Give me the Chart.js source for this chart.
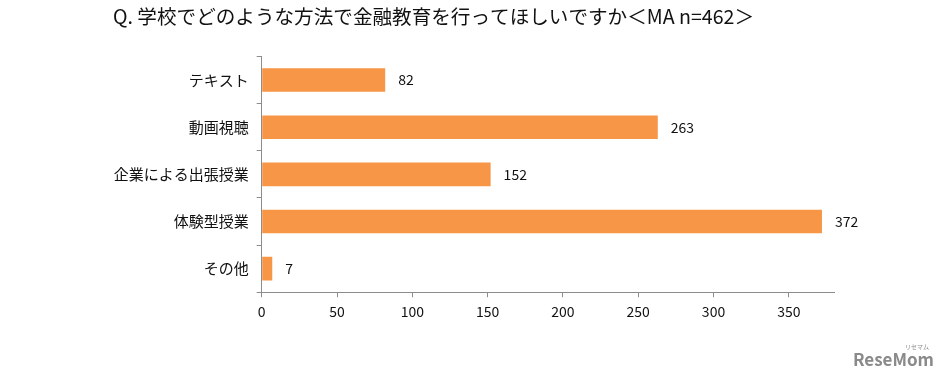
<!DOCTYPE html>
<html>
<head>
<meta charset="utf-8">
<script src="https://cdn.jsdelivr.net/npm/chart.js@4"></script>
<style>
    html, body { margin: 0; padding: 0; background: #fff; }
    #wrap { position: relative; width: 948px; height: 382px; }
</style>
</head>
<body>
<div id="wrap"><canvas id="methodChart" width="948" height="382"></canvas></div>
<script>
const titleText = 'Q. 学校でどのような方法で金融教育を行ってほしいですか＜MA n=462＞';
const categories = ['テキスト', '動画視聴', '企業による出張授業', '体験型授業', 'その他'];
const counts = [82, 263, 152, 372, 7];
const tickValues = [0, 50, 100, 150, 200, 250, 300, 350];

const fontFamily = '"Noto Sans CJK JP", "Noto Sans", sans-serif';

// numbers at the end of each bar
const valueLabels = {
    id: 'valueLabels',
    afterDatasetsDraw(chart) {
        const ctx = chart.ctx;
        const meta = chart.getDatasetMeta(0);
        ctx.save();
        ctx.font = '14px ' + fontFamily;
        ctx.fillStyle = '#111';
        ctx.textAlign = 'left';
        ctx.textBaseline = 'middle';
        meta.data.forEach(function(bar, i) {
            ctx.fillText(String(counts[i]), bar.x + 13, bar.y);
        });
        ctx.restore();
    }
};

// site mark in the corner
const siteMark = {
    id: 'siteMark',
    afterDraw(chart) {
        const ctx = chart.ctx;
        ctx.save();
        ctx.fillStyle = '#8a8a8a';
        ctx.textAlign = 'right';
        ctx.textBaseline = 'alphabetic';
        ctx.font = 'bold 17px ' + fontFamily;
        ctx.fillText('ReseMom', 934, 366);
        ctx.font = '6px ' + fontFamily;
        ctx.fillText('リセマム', 929, 349);
        ctx.restore();
    }
};

document.addEventListener('DOMContentLoaded', function() {
    const ctx = document.getElementById('methodChart');
    new Chart(ctx, {
        type: 'bar',
        data: {
            labels: categories,
            datasets: [{
                data: counts,
                backgroundColor: '#F79646',
                borderWidth: 0,
                categoryPercentage: 1.0,
                barPercentage: 0.5
            }]
        },
        options: {
            indexAxis: 'y',
            responsive: false,
            animation: false,
            layout: {
                padding: { left: 113, right: 114, top: 0, bottom: 56 }
            },
            plugins: {
                legend: { display: false },
                tooltip: { enabled: false },
                title: {
                    display: true,
                    text: titleText,
                    align: 'start',
                    color: '#111',
                    font: { family: fontFamily, size: 19.6, weight: 'normal' },
                    padding: { top: 5, bottom: 28 }
                }
            },
            scales: {
                x: {
                    min: 0,
                    max: 380,
                    afterBuildTicks: function(scale) {
                        scale.ticks = tickValues.map(function(v) { return { value: v }; });
                    },
                    border: { display: true, color: '#8c8c8c', width: 1 },
                    grid: {
                        display: true,
                        drawOnChartArea: false,
                        drawTicks: true,
                        tickLength: 5,
                        color: '#8c8c8c'
                    },
                    ticks: {
                        color: '#111',
                        padding: 6,
                        maxRotation: 0,
                        font: { family: fontFamily, size: 14 }
                    }
                },
                y: {
                    afterFit: function(scale) {
                        scale.width = 148.7;
                    },
                    border: { display: true, color: '#8c8c8c', width: 1 },
                    grid: {
                        display: true,
                        offset: true,
                        drawOnChartArea: false,
                        drawTicks: true,
                        tickLength: 5,
                        color: '#8c8c8c'
                    },
                    ticks: {
                        color: '#111',
                        padding: 8,
                        font: { family: fontFamily, size: 15 }
                    }
                }
            }
        },
        plugins: [valueLabels, siteMark]
    });
});
</script>
</body>
</html>
